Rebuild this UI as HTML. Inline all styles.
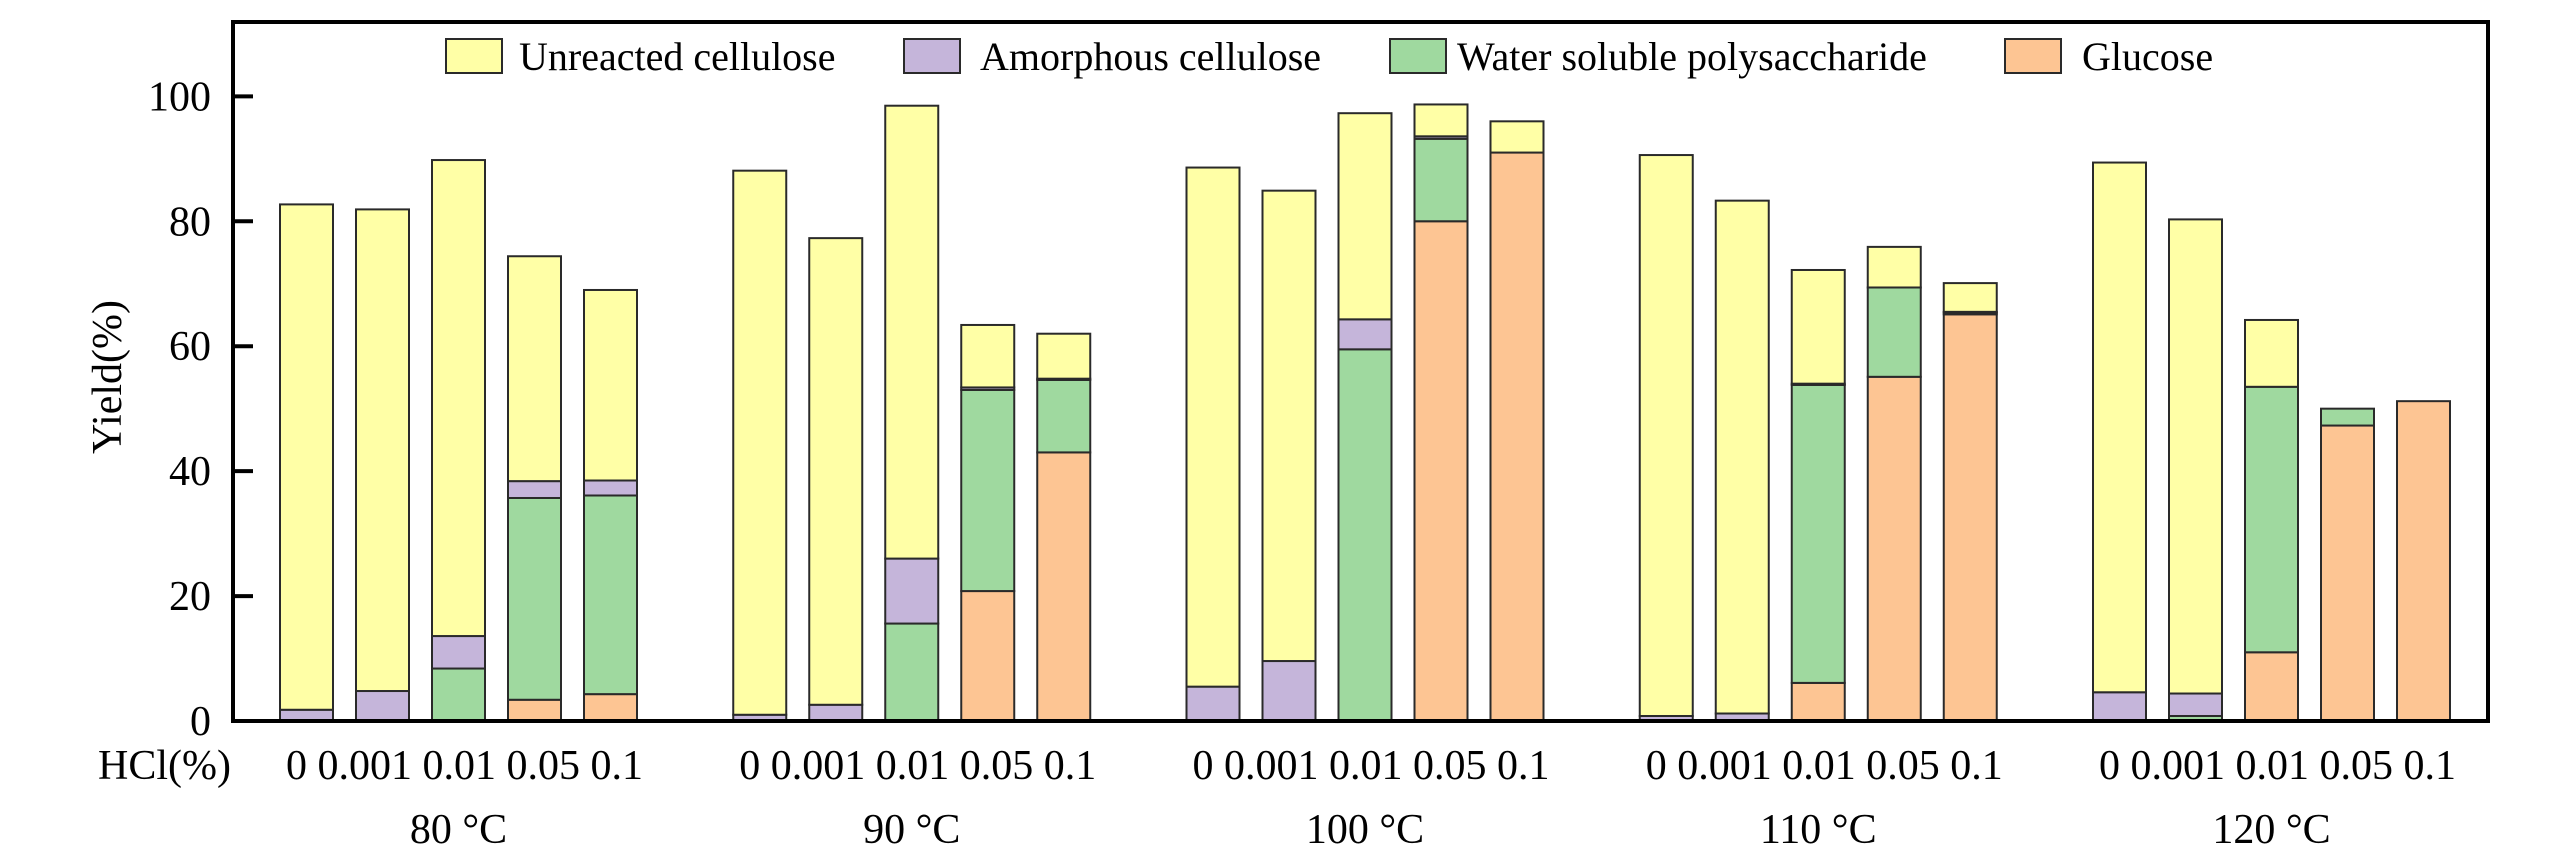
<!DOCTYPE html>
<html><head><meta charset="utf-8"><style>
body{margin:0;background:#fff}
svg{display:block}
text{font-family:"Liberation Serif",serif;fill:#000}
</style></head><body>
<svg id="chart" width="2567" height="866" viewBox="0 0 2567 866" xmlns="http://www.w3.org/2000/svg" font-family="Liberation Serif, serif"></svg>
<script>
const temps = ["80 °C","90 °C","100 °C","110 °C","120 °C"];
const hclLabels = ["0","0.001","0.01","0.05","0.1"];
const seriesNames = ["Glucose","Water soluble polysaccharide","Amorphous cellulose","Unreacted cellulose"];
// cumulative top values per bar (group-major order): glucose, WSP, amorphous, total
const glucoseTop = [0,0,0,3.4,4.3, 0,0,0,20.8,43, 0,0,0,80,91, 0,0,6.1,55.1,65.1, 0,0,11,47.3,51.2];
const wspTop     = [0,0,8.4,35.7,36.1, 0,0,15.6,53,54.6, 0,0,59.5,93.2,91, 0,0,53.8,69.4,65.4, 0,0.8,53.5,50,51.2];
const amorphTop  = [1.8,4.8,13.6,38.4,38.5, 1,2.6,26,53.4,54.8, 5.5,9.6,64.3,93.6,91, 0.8,1.2,54,69.4,65.5, 4.6,4.4,53.5,50,51.2];
const totalTop   = [82.7,81.9,89.8,74.4,69, 88.1,77.3,98.5,63.4,62, 88.6,84.9,97.3,98.7,96, 90.6,83.3,72.2,75.9,70.1, 89.4,80.3,64.2,50,51.2];
const yTicks = [0,20,40,60,80,100];

const svg = document.getElementById('chart');
const NS = "http://www.w3.org/2000/svg";
const FONT = '"Liberation Serif", serif';
const L=233,R=2488,T=22,B=721,YMAX=111.9;
const y = v => B - v*(B-T)/YMAX;
const barW = 53, step = 76, groupStride = 453.25, x0 = 280;
const xBar = (g,i) => x0 + g*groupStride + i*step;
const colors = ["#fdc593","#9fd99f","#c5b5da","#ffffa6"];
function el(tag, attrs, parent){const e=document.createElementNS(NS,tag);for(const k in attrs)e.setAttribute(k,attrs[k]);if(tag==='text')e.setAttribute('font-family',FONT);(parent||svg).appendChild(e);return e;}

for(let g=0; g<temps.length; g++){
  for(let i=0;i<hclLabels.length;i++){
    const k=g*5+i;
    const tops=[glucoseTop[k],wspTop[k],amorphTop[k],totalTop[k]];
    let prev=0;
    for(let s=0;s<4;s++){
      const top=tops[s];
      if(top-prev>0.001){
        const r=el('rect',{x:xBar(g,i),y:y(top),width:barW,height:y(prev)-y(top),fill:colors[s],stroke:'#2a2a2a','stroke-width':2});
        
        
      }
      prev=Math.max(prev,top);
    }
  }
  const c = xBar(g,2)+barW/2;
  const t=el('text',{x:c+6,y:779,'font-size':42,'text-anchor':'middle'});
  t.textContent=hclLabels.join(' ');
  
  
  const t2=el('text',{x:c,y:843,'font-size':42,'text-anchor':'middle'});
  t2.textContent=temps[g];
  
  
}
const fr=el('rect',{x:L,y:T,width:R-L,height:B-T,fill:'none',stroke:'#000','stroke-width':4});


for(const v of yTicks){
  const ln=el('line',{x1:L,x2:L+20,y1:y(v),y2:y(v),stroke:'#000','stroke-width':4});
  
  
  const t=el('text',{x:211,y:y(v)+14,'font-size':42,'text-anchor':'end'});
  t.textContent=v;
  
  
}
const yl=el('text',{x:0,y:0,'font-size':42,'text-anchor':'middle',transform:'translate(121,377) rotate(-90)'});
yl.textContent='Yield(%)';


const hl=el('text',{x:98,y:779,'font-size':42});
hl.textContent='HCl(%)';


const legX=[446,904,1390,2005], legTextX=[519,980,1457,2082];
const legOrder=[3,2,1,0];
for(let j=0;j<4;j++){
  const s=legOrder[j];
  const sw=el('rect',{x:legX[j],y:39,width:56,height:34,fill:colors[s],stroke:'#2a2a2a','stroke-width':2});
  
  
  const t=el('text',{x:legTextX[j],y:70,'font-size':40});
  t.textContent=seriesNames[s];
  
  
}
</script>
</body></html>
